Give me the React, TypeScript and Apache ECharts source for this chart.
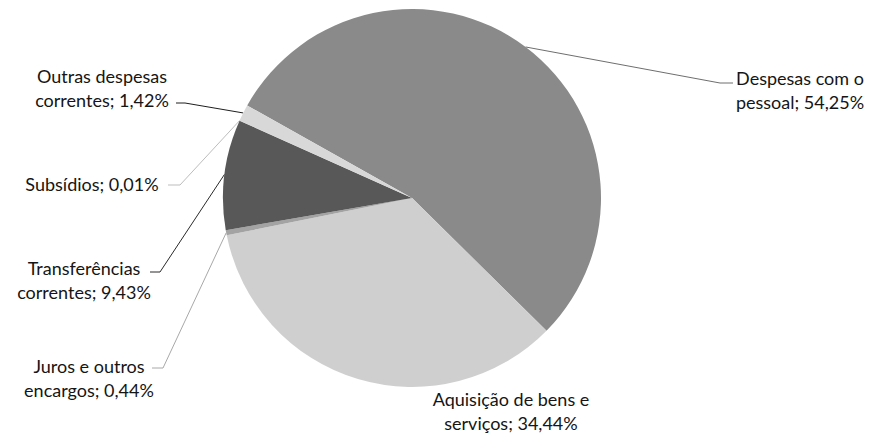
import React, { useEffect, useRef } from "react";
import * as echarts from "echarts";

const categories = [
  "Despesas com o\npessoal",
  "Aquisição de bens e\nserviços",
  "Juros e outros\nencargos",
  "Transferências\ncorrentes",
  "Subsídios",
  "Outras despesas\ncorrentes",
];
const values = [54.25, 34.44, 0.44, 9.43, 0.01, 1.42];
const valueLabels = ["54,25%", "34,44%", "0,44%", "9,43%", "0,01%", "1,42%"];
const sliceColors = ["#8a8a8a", "#cfcfcf", "#a3a3a3", "#585858", "#b0b0b0", "#d8d8d8"];
const lineColors = ["#6e6e6e", "#999999", "#a8a8a8", "#2a2a2a", "#bdbdbd", "#1e1e1e"];

// label anchor positions (layout only)
const labelPos: { x: number; y: number; bend?: number[]; end?: number[] }[] = [
  { x: 800, y: 90, bend: [720, 83], end: [733, 83] },
  { x: 511, y: 411 },
  { x: 89, y: 378, bend: [163, 368], end: [152, 368] },
  { x: 84, y: 280, bend: [160, 272], end: [150, 272] },
  { x: 92, y: 184, bend: [180, 185], end: [168, 185] },
  { x: 102, y: 88, bend: [185, 103], end: [176, 103] },
];

export default function App() {
  const ref = useRef<HTMLDivElement>(null);
  useEffect(() => {
    if (!ref.current) return;
    const chart = echarts.init(ref.current, null, { renderer: "svg" });
    chart.setOption({
      animation: false,
      backgroundColor: "#ffffff",
      series: [
        {
          type: "pie",
          center: [412, 198],
          radius: 189,
          startAngle: 150.7,
          clockwise: true,
          avoidLabelOverlap: false,
          minShowLabelAngle: 0,
          itemStyle: { borderWidth: 0 },
          label: {
            show: true,
            position: "outside",
            fontFamily: "Lato, 'Open Sans', sans-serif",
            fontSize: 18,
            lineHeight: 24.5,
            color: "#151515",
            align: "center",
            formatter: (p: any) => categories[p.dataIndex] + "; " + valueLabels[p.dataIndex],
          },
          labelLine: { show: true, length: 10, length2: 10, lineStyle: { width: 1 } },
          labelLayout: (params: any) => {
            const i = params.dataIndex;
            const pos = labelPos[i];
            const out: any = { x: pos.x, y: pos.y, align: "center", verticalAlign: "middle" };
            if (pos.bend && params.labelLinePoints) {
              out.labelLinePoints = [params.labelLinePoints[0], pos.bend, pos.end];
            }
            return out;
          },
          data: values.map((v, i) => ({
            value: v,
            name: categories[i],
            itemStyle: { color: sliceColors[i] },
            labelLine: i === 1 ? { show: false } : { show: true, lineStyle: { color: lineColors[i], width: 1 } },
          })),
        },
      ],
    });
    return () => chart.dispose();
  }, []);
  return (
    <div
      ref={ref}
      style={{ position: "fixed", left: 0, top: 0, width: 872, height: 437, background: "#fff" }}
    />
  );
}
